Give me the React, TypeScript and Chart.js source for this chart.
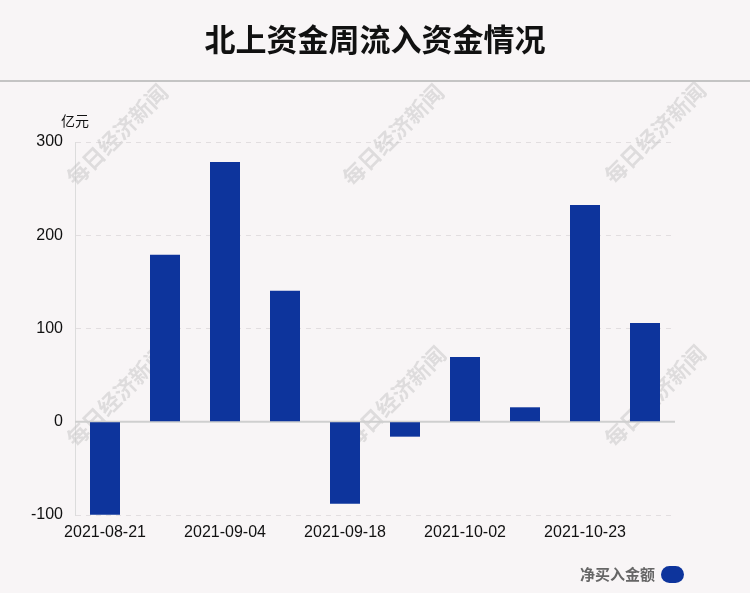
import React, { useEffect, useRef } from "react";
import { Chart, registerables } from "chart.js";

Chart.register(...registerables);

const categories = [
  "2021-08-21", "2021-08-28", "2021-09-04", "2021-09-11", "2021-09-18",
  "2021-09-25", "2021-10-02", "2021-10-16", "2021-10-23", "2021-10-30",
];
const netBuy = [-99.6, 179, 278.5, 140.5, -88, -16, 69.5, 15.5, 232.5, 106];
const seriesName = "净买入金额";
const titleText = "北上资金周流入资金情况";
const unitText = "亿元";
const watermarkText = "每日经济新闻";
const yTicksMin = -100;
const yTicksMax = 300;
const yStep = 100;

const BG = "#f8f5f6";
const BAR = "#0d349c";

const watermarkPlugin = {
  id: "watermark",
  beforeDatasetsDraw(chart: any) {
    const ctx = chart.ctx;
    const centers = [
      [117, 135], [393, 135], [655, 133],
      [117, 396], [395, 397], [655, 396],
    ];
    ctx.save();
    ctx.font = "bold 22px 'Noto Sans CJK SC', sans-serif";
    ctx.fillStyle = "rgba(190,190,190,0.45)";
    ctx.textAlign = "center";
    ctx.textBaseline = "middle";
    for (const [x, y] of centers) {
      ctx.save();
      ctx.translate(x, y);
      ctx.rotate(-Math.PI / 4);
      ctx.fillText(watermarkText, 0, 0);
      ctx.restore();
    }
    ctx.restore();
  },
};

const zeroLinePlugin = {
  id: "zeroLine",
  beforeDatasetsDraw(chart: any) {
    const { ctx, chartArea, scales } = chart;
    const y = scales.y.getPixelForValue(0);
    ctx.save();
    ctx.strokeStyle = "#cfcfcf";
    ctx.lineWidth = 2;
    ctx.beginPath();
    ctx.moveTo(chartArea.left, y);
    ctx.lineTo(chartArea.right, y);
    ctx.stroke();
    ctx.restore();
  },
};

export default function App() {
  const ref = useRef<HTMLCanvasElement | null>(null);

  useEffect(() => {
    document.body.style.margin = "0";
    const canvas = ref.current;
    if (!canvas) return;
    const chart = new Chart(canvas, {
      type: "bar",
      data: {
        labels: categories,
        datasets: [
          {
            label: seriesName,
            data: netBuy,
            backgroundColor: BAR,
            barPercentage: 0.5,
            categoryPercentage: 1,
          },
        ],
      },
      options: {
        animation: false,
        responsive: false,
        maintainAspectRatio: false,
        layout: { padding: { left: 0, right: 75, top: 142, bottom: 0 } },
        plugins: {
          legend: { display: false },
          tooltip: { enabled: false },
          title: { display: false },
        },
        scales: {
          x: {
            grid: { display: false, drawTicks: false },
            border: { display: false },
            ticks: {
              autoSkip: false,
              maxRotation: 0,
              minRotation: 0,
              padding: 8,
              color: "#111",
              font: { family: "'Liberation Sans', Arial, sans-serif", size: 16 },
              callback: (_v: any, i: number) => (i % 2 === 0 ? categories[i] : ""),
            },
            afterFit: (s: any) => { s.height = 78; },
          },
          y: {
            min: yTicksMin,
            max: yTicksMax,
            ticks: {
              stepSize: yStep,
              padding: 12,
              color: "#111",
              font: { family: "'Liberation Sans', Arial, sans-serif", size: 16 },
            },
            border: { display: true, color: "#dcdcdc", width: 1, dash: [5, 5] },
            grid: {
              drawTicks: false,
              color: (c: any) => (c.tick && c.tick.value === 0 ? "rgba(0,0,0,0)" : "#e2dee0"),
              lineWidth: 1,
            },
            afterFit: (s: any) => { s.width = 75; },
          },
        },
      },
      plugins: [watermarkPlugin, zeroLinePlugin],
    } as any);
    return () => chart.destroy();
  }, []);

  return (
    <div style={{ position: "relative", width: 750, height: 593, background: BG, overflow: "hidden" }}>
      <canvas ref={ref} width={750} height={593} style={{ position: "absolute", left: 0, top: 0 }} />
      <div
        style={{
          position: "absolute", left: 0, top: 18, width: 750, textAlign: "center",
          fontFamily: "'Noto Sans CJK SC', sans-serif", fontWeight: 700, fontSize: 31,
          color: "#111", lineHeight: "40px",
        }}
      >
        {titleText}
      </div>
      <div style={{ position: "absolute", left: 0, top: 80, width: 750, height: 2, background: "#c4c4c4" }} />
      <div
        style={{
          position: "absolute", left: 61, top: 111, fontFamily: "'Noto Sans CJK SC', sans-serif",
          fontSize: 14, color: "#111", lineHeight: "18px",
        }}
      >
        {unitText}
      </div>
      <div
        style={{
          position: "absolute", right: 66, top: 563, display: "flex", alignItems: "center",
          fontFamily: "'Noto Sans CJK SC', sans-serif", fontWeight: 700, fontSize: 15,
          color: "#666", lineHeight: "22px",
        }}
      >
        <span>{seriesName}</span>
        <span style={{ display: "inline-block", width: 23, height: 17, borderRadius: 9, background: BAR, marginLeft: 6 }} />
      </div>
    </div>
  );
}
